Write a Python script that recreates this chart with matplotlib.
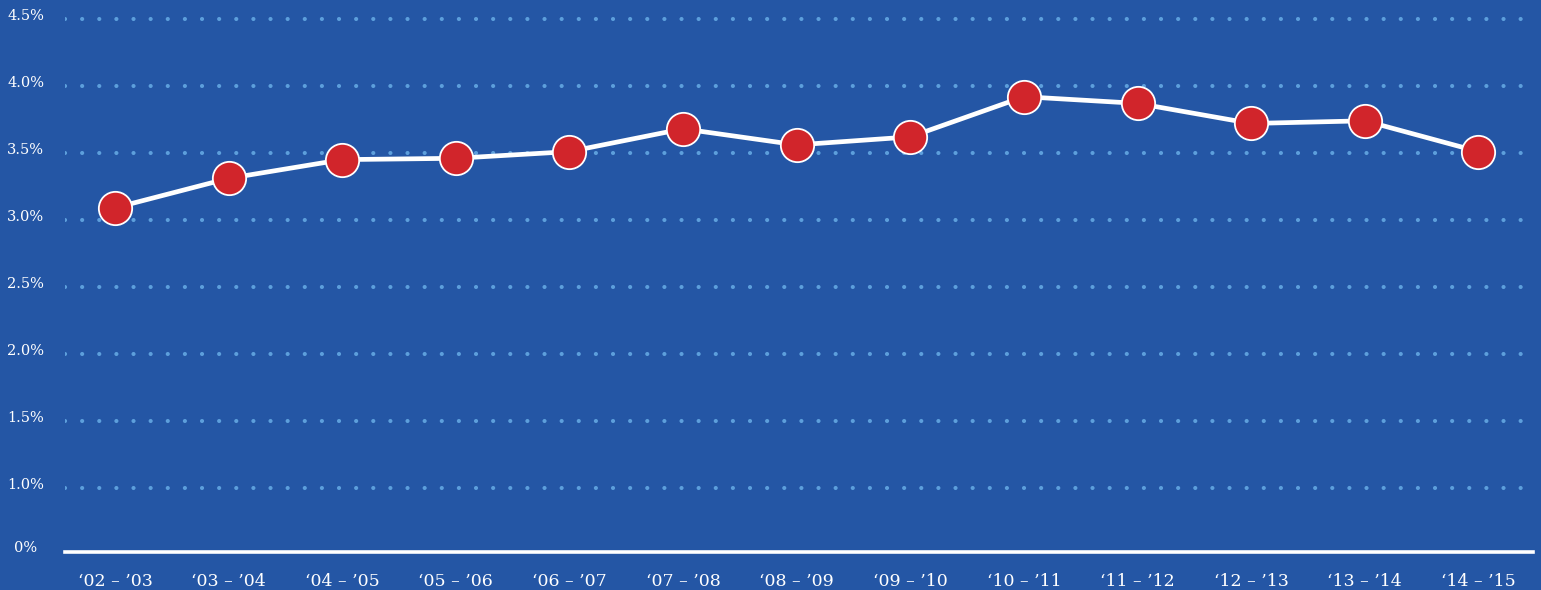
import matplotlib.pyplot as plt
import matplotlib.transforms as mtransforms

years = ['\u201802 \u2013 \u201903', '\u201803 \u2013 \u201904', '\u201804 \u2013 \u201905',
         '\u201805 \u2013 \u201906', '\u201806 \u2013 \u201907', '\u201807 \u2013 \u201908',
         '\u201808 \u2013 \u201909', '\u201809 \u2013 \u201910', '\u201810 \u2013 \u201911',
         '\u201811 \u2013 \u201912', '\u201812 \u2013 \u201913', '\u201813 \u2013 \u201914',
         '\u201814 \u2013 \u201915']
rates = [3.09, 3.31, 3.45, 3.46, 3.51, 3.68, 3.56, 3.62, 3.92, 3.87, 3.72, 3.74, 3.51]

# axis is broken in the original: bottom tick is labelled 0%
tick_vals = [0.5, 1.0, 1.5, 2.0, 2.5, 3.0, 3.5, 4.0, 4.5]
tick_labels = ['0%', '1.0%', '1.5%', '2.0%', '2.5%', '3.0%', '3.5%', '4.0%', '4.5%']

BG = '#2456a5'
GRID = '#5d9fdc'
RED = '#d1252b'

fig = plt.figure(figsize=(15.41, 5.90), dpi=100, facecolor=BG)
ax = fig.add_axes([65 / 1541, 38 / 590, (1533 - 65) / 1541, 537 / 590])
ax.set_facecolor(BG)

x = list(range(len(years)))
ax.set_xlim(-0.44, len(years) - 1 + 0.48)
ax.set_ylim(0.52, 4.53)

for v in tick_vals[1:]:
    ax.axhline(v, color=GRID, lw=3.0, linestyle=(0, (0.01, 4.1)),
               dash_capstyle='round', zorder=1)
ax.axhline(0.52, color='white', lw=2.6, zorder=2, clip_on=False)

ax.plot(x, rates, color='white', lw=3.4, zorder=3)
ax.plot(x, rates, 'o', ms=24, markerfacecolor=RED, markeredgecolor='white',
        markeredgewidth=1.3, zorder=4)

trans = mtransforms.blended_transform_factory(fig.transFigure, ax.transData)
for v, lab in zip(tick_vals, tick_labels):
    yv = 0.55 if v == 0.5 else v + 0.02
    xpos = 14 / 1541 if v == 0.5 else 7 / 1541
    ax.text(xpos, yv, lab, transform=trans, color='white', fontsize=10.5,
            family='DejaVu Serif', ha='left', va='center', clip_on=False)

xtrans = mtransforms.blended_transform_factory(ax.transData, ax.transAxes)
for xi, lab in zip(x, years):
    ax.text(xi, -0.04, lab, transform=xtrans, color='white', fontsize=12.5,
            family='DejaVu Serif', ha='center', va='top', clip_on=False)

ax.set_xticks([])
ax.set_yticks([])
for s in ax.spines.values():
    s.set_visible(False)

fig.savefig('out.png', dpi=100, facecolor=BG)
